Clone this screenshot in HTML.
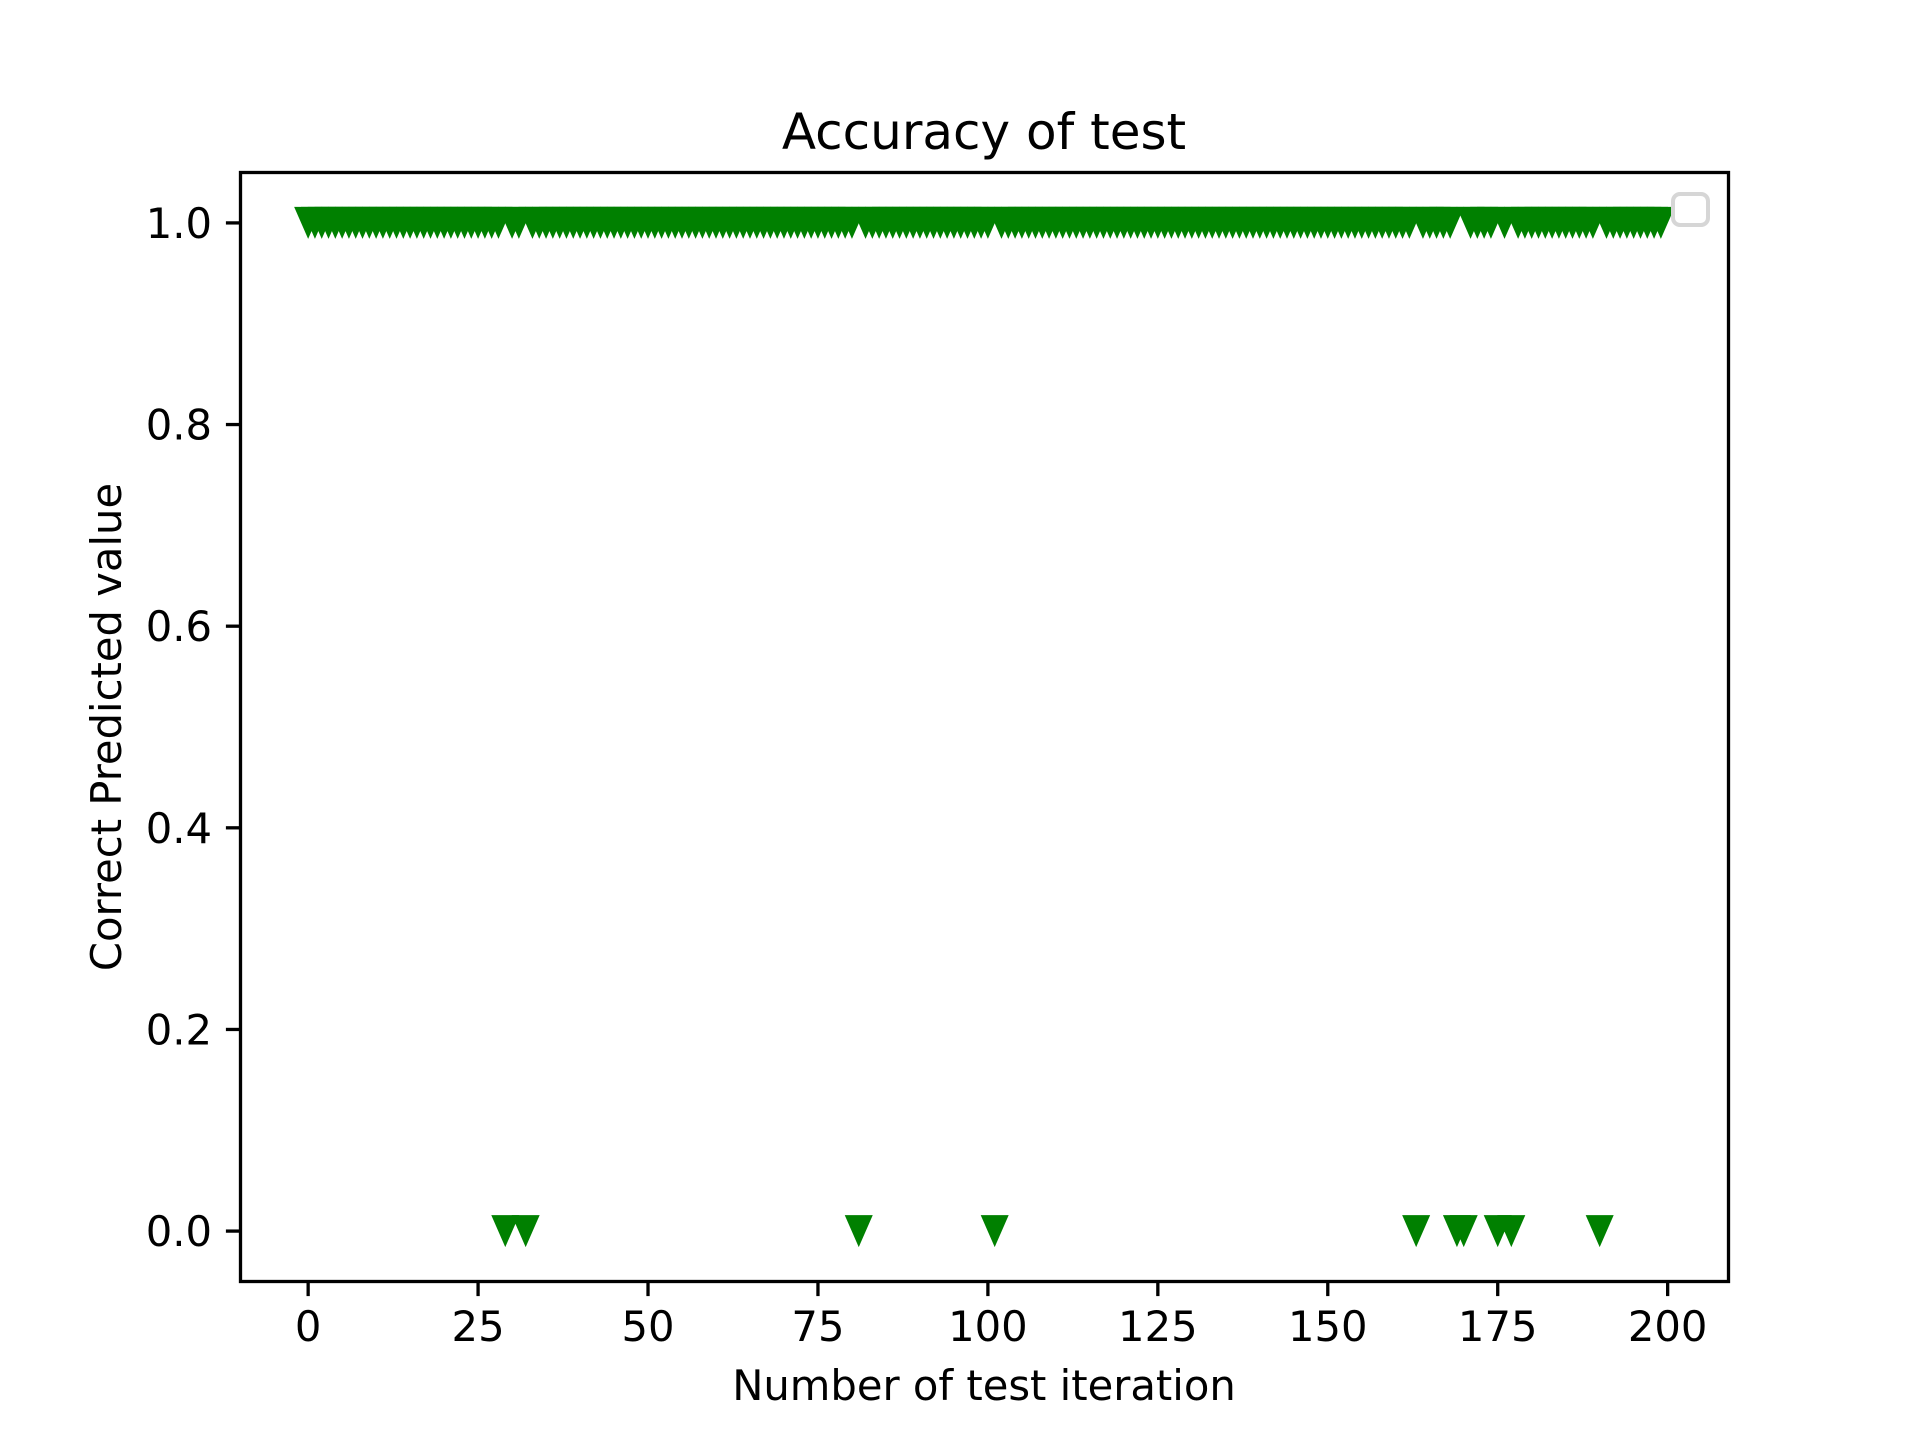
<!DOCTYPE html>
<html><head><meta charset="utf-8"><style>
html,body{margin:0;padding:0;background:#fff;}
svg{display:block;font-family:"DejaVu Sans","Liberation Sans",sans-serif;}
</style></head><body>
<svg id="chart" width="1920" height="1440" xmlns="http://www.w3.org/2000/svg">
<rect width="1920" height="1440" fill="#fff"/>
<text x="984" y="149" font-size="50" text-anchor="middle">Accuracy of test</text>
<g id="marks"></g>
<g id="axes"></g>
<rect x="240.5" y="172.5" width="1488" height="1109" fill="none" stroke="#000" stroke-width="3.3"/>
<rect x="1673" y="194" width="35" height="31" rx="7" fill="#fff" fill-opacity="0.8" stroke="#d6d6d6" stroke-width="4"/>
<text x="984" y="1400" font-size="41.7" text-anchor="middle">Number of test iteration</text>
<text transform="translate(121,727) rotate(-90)" font-size="41.7" text-anchor="middle">Correct Predicted value</text>
</svg>
<script>
const iterationCount = 200;
const zeroIterations = [29, 32, 81, 101, 163, 169, 170, 175, 177, 190];
const xTicks = [0, 25, 50, 75, 100, 125, 150, 175, 200];
const yTicks = [0.0, 0.2, 0.4, 0.6, 0.8, 1.0];
const yTickLabels = ["0.0", "0.2", "0.4", "0.6", "0.8", "1.0"];

const NS = "http://www.w3.org/2000/svg";
const L = 240.5, R = 1728.5, T = 172.5, B = 1281.5;
const xmin = -9.95, xmax = 208.95, ymin = -0.05, ymax = 1.05;
function xs(v){ return L + (v - xmin) / (xmax - xmin) * (R - L); }
function ys(v){ return B - (v - ymin) / (ymax - ymin) * (B - T); }

const values = [];
for (let i = 0; i < iterationCount; i++) values.push(zeroIterations.includes(i) ? 0 : 1);

const marks = document.getElementById('marks');
const hw = 14, hh = 16;
values.forEach((v, i) => {
  const cx = xs(i), cy = ys(v);
  const p = document.createElementNS(NS, 'polygon');
  p.setAttribute('points', `${cx-hw},${cy-hh} ${cx+hw},${cy-hh} ${cx},${cy+hh}`);
  p.setAttribute('fill', '#008000');
  
  
  marks.appendChild(p);
});

const axes = document.getElementById('axes');
xTicks.forEach(t => {
  const x = xs(t);
  const l = document.createElementNS(NS, 'line');
  l.setAttribute('x1', x); l.setAttribute('x2', x);
  l.setAttribute('y1', B); l.setAttribute('y2', B + 14.6);
  l.setAttribute('stroke', '#000'); l.setAttribute('stroke-width', '3.3');
  
  
  axes.appendChild(l);
  const tx = document.createElementNS(NS, 'text');
  tx.setAttribute('x', x); tx.setAttribute('y', 1341);
  tx.setAttribute('font-size', '41.7'); tx.setAttribute('text-anchor', 'middle');
  tx.textContent = String(t);
  
  
  axes.appendChild(tx);
});
yTicks.forEach((t, i) => {
  const y = ys(t);
  const l = document.createElementNS(NS, 'line');
  l.setAttribute('x1', L - 14.6); l.setAttribute('x2', L);
  l.setAttribute('y1', y); l.setAttribute('y2', y);
  l.setAttribute('stroke', '#000'); l.setAttribute('stroke-width', '3.3');
  
  
  axes.appendChild(l);
  const tx = document.createElementNS(NS, 'text');
  tx.setAttribute('x', 212); tx.setAttribute('y', y + 15);
  tx.setAttribute('font-size', '41.7'); tx.setAttribute('text-anchor', 'end');
  tx.textContent = yTickLabels[i];
  
  
  axes.appendChild(tx);
});
</script>
</body></html>
